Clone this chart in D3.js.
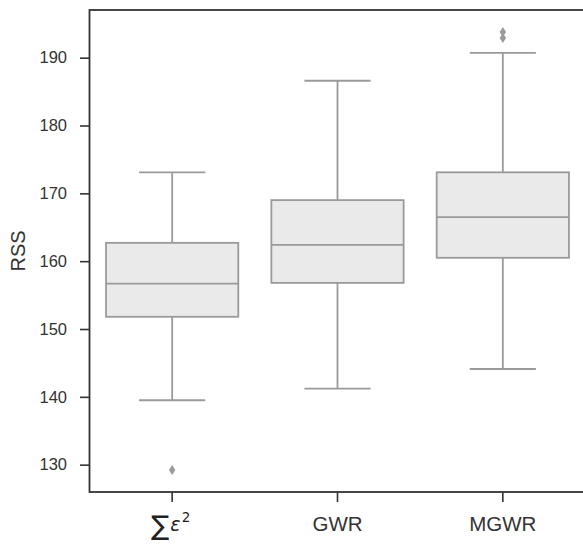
<!DOCTYPE html>
<html>
<head>
<meta charset="utf-8">
<script src="https://cdn.jsdelivr.net/npm/d3@7"></script>
<style>
  html, body { margin: 0; padding: 0; background: #fff; }
  svg { display: block; }
</style>
</head>
<body>
<svg id="chart" width="583" height="544"></svg>
<script>
// Residual sum of squares distributions per model
const categories = ["sumsq", "GWR", "MGWR"];
const whiskerLow = [139.5, 141.2, 144.1];
const q1 = [151.8, 156.8, 160.5];
const median = [156.7, 162.4, 166.5];
const q3 = [162.7, 169.0, 173.1];
const whiskerHigh = [173.1, 186.6, 190.7];
const outliers = [[129.2], [], [192.9, 193.8]];
const yTicks = [130, 140, 150, 160, 170, 180, 190];
const yLabel = "RSS";

const W = 583, H = 544;
const margin = { left: 89.5, top: 10, right: -2.5, bottom: 52 };
const plotW = W - margin.left - margin.right;
const plotH = H - margin.top - margin.bottom;

const svg = d3.select("#chart");
const g = svg.append("g").attr("transform", `translate(${margin.left},${margin.top})`);

const x = d3.scaleBand().domain(categories).range([0, plotW]).paddingInner(0.2).paddingOuter(0.1);
const y = d3.scaleLinear().domain([125.97, 197.03]).range([plotH, 0]);

const lineColor = "#9a9a9a";
const fillColor = "#eaeaea";
const frameColor = "#333";

const boxes = categories.map((c, i) => ({
  c, lo: whiskerLow[i], q1: q1[i], med: median[i], q3: q3[i], hi: whiskerHigh[i], out: outliers[i]
}));

const bw = x.bandwidth();
const bx = g.selectAll("g.box").data(boxes).join("g").attr("class", "box")
  .attr("transform", d => `translate(${x(d.c)},0)`);

// whiskers
bx.append("line").attr("x1", bw / 2).attr("x2", bw / 2)
  .attr("y1", d => y(d.q3)).attr("y2", d => y(d.hi))
  .attr("stroke", lineColor).attr("stroke-width", 1.8);
bx.append("line").attr("x1", bw / 2).attr("x2", bw / 2)
  .attr("y1", d => y(d.q1)).attr("y2", d => y(d.lo))
  .attr("stroke", lineColor).attr("stroke-width", 1.8);
// caps
bx.selectAll("line.cap").data(d => [d.lo, d.hi]).join("line").attr("class", "cap")
  .attr("x1", bw / 4).attr("x2", bw * 3 / 4)
  .attr("y1", v => y(v)).attr("y2", v => y(v))
  .attr("stroke", lineColor).attr("stroke-width", 1.8);
// box
bx.append("rect").attr("x", 0).attr("width", bw)
  .attr("y", d => y(d.q3)).attr("height", d => y(d.q1) - y(d.q3))
  .attr("fill", fillColor).attr("stroke", lineColor).attr("stroke-width", 1.8);
// median
bx.append("line").attr("x1", 0).attr("x2", bw)
  .attr("y1", d => y(d.med)).attr("y2", d => y(d.med))
  .attr("stroke", lineColor).attr("stroke-width", 1.8);
// outliers as thin diamonds
bx.selectAll("path.out").data(d => d.out).join("path").attr("class", "out")
  .attr("d", v => {
    const cy = y(v), cx = bw / 2;
    return `M${cx},${cy - 5}L${cx + 3.2},${cy}L${cx},${cy + 5}L${cx - 3.2},${cy}Z`;
  })
  .attr("fill", lineColor);

// frame
g.append("rect").attr("x", 0).attr("y", 0).attr("width", plotW).attr("height", plotH)
  .attr("fill", "none").attr("stroke", frameColor).attr("stroke-width", 1.8);

// y axis
const yAxis = g.append("g").call(d3.axisLeft(y).tickValues(yTicks).tickSize(9.5).tickPadding(13));
yAxis.select(".domain").remove();
yAxis.selectAll(".tick line").attr("stroke", frameColor).attr("stroke-width", 1.6);
yAxis.selectAll(".tick text").attr("fill", "#333").style("font-family", "Liberation Sans, Arial, sans-serif").style("font-size", "16.5px");

// x axis
const xAxis = g.append("g").attr("transform", `translate(0,${plotH})`)
  .call(d3.axisBottom(x).tickSize(10).tickFormat(() => ""));
xAxis.select(".domain").remove();
xAxis.selectAll(".tick line").attr("stroke", frameColor).attr("stroke-width", 1.6);

const labelY = plotH + 39;
categories.forEach((c, i) => {
  const cx = x(c) + bw / 2;
  if (i === 0) {
    const t = g.append("text").attr("x", cx - 21).attr("y", labelY)
      .attr("fill", "#222").style("font-family", "DejaVu Sans, sans-serif");
    t.append("tspan").text("\u2211").style("font-size", "27px").attr("dy", 4);
    t.append("tspan").text("\u03b5").style("font-size", "19px").style("font-style", "italic").attr("dy", -4).attr("dx", 1);
    t.append("tspan").text("2").style("font-size", "13.5px").attr("dy", -9).attr("dx", 1);
  } else {
    g.append("text").attr("x", cx).attr("y", labelY).attr("text-anchor", "middle")
      .attr("fill", "#333").style("font-family", "Liberation Sans, Arial, sans-serif").style("font-size", "20.5px")
      .text(c);
  }
});

// y label
svg.append("text").attr("transform", `translate(25,${margin.top + plotH / 2}) rotate(-90)`)
  .attr("text-anchor", "middle").attr("fill", "#333")
  .style("font-family", "Liberation Sans, Arial, sans-serif").style("font-size", "20px")
  .text(yLabel);
</script>
</body>
</html>
